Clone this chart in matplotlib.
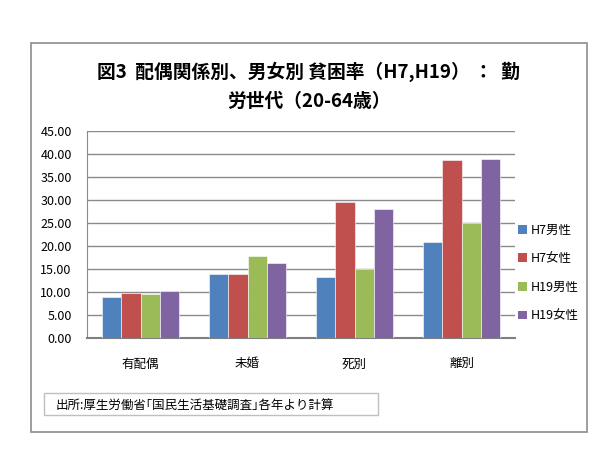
import matplotlib.pyplot as plt
import numpy as np
from matplotlib.patches import Rectangle, Patch

plt.rcParams['font.family'] = ['Noto Sans CJK JP', 'DejaVu Sans']

categories = ['有配偶', '未婚', '死別', '離別']
series_names = ['H7男性', 'H7女性', 'H19男性', 'H19女性']
h7_male = [9.0, 14.0, 13.3, 20.8]
h7_female = [9.8, 14.0, 29.6, 38.6]
h19_male = [9.5, 17.8, 14.9, 24.9]
h19_female = [10.3, 16.3, 28.1, 38.9]
colors = ['#4F81BD', '#C0504D', '#9BBB59', '#8064A2']
y_ticks = np.arange(0, 46, 5)

fig = plt.figure(figsize=(6.05, 4.57), dpi=100)
W, H = 605, 457

# outer chart frame
fig.patches.append(Rectangle((31 / W, 1 - 432 / H), (587 - 31) / W, (432 - 43) / H,
                             transform=fig.transFigure, fill=False,
                             edgecolor='#8c8c8c', linewidth=1.2))

ax = fig.add_axes([87 / W, 1 - 338 / H, (515 - 87) / W, (338 - 131) / H])

x = np.arange(len(categories))
bw = 0.18
data = [h7_male, h7_female, h19_male, h19_female]
for i, vals in enumerate(data):
    ax.bar(x + (i - 1.5) * bw, vals, bw, color=colors[i], edgecolor='white',
           linewidth=0.4, zorder=3)

ax.set_xlim(-0.5, len(categories) - 0.5)
ax.set_ylim(0, 45)
ax.set_yticks(y_ticks)
ax.set_yticklabels(['%.2f' % v for v in y_ticks])
ax.set_xticks(x)
ax.set_xticklabels(categories)
ax.tick_params(axis='y', length=0, pad=11, labelsize=9)
ax.tick_params(axis='x', length=0, pad=14, labelsize=9)
ax.grid(axis='y', color='#8a8a8a', linewidth=1, zorder=0)
for s in ['top', 'right']:
    ax.spines[s].set_visible(False)
ax.spines['left'].set_color('#8a8a8a')
ax.spines['bottom'].set_color('#7f7f7f')
ax.spines['bottom'].set_linewidth(1.5)

handles = [Patch(facecolor=c, edgecolor='none') for c in colors]
fig.legend(handles, series_names, loc='center left',
           bbox_to_anchor=(507 / W, 1 - 273 / H), frameon=False, fontsize=9,
           handlelength=0.7, handleheight=0.7, handletextpad=0.3, labelspacing=1.25)

fig.text(0.51, 1 - 72 / H, '図3  配偶関係別、男女別 貧困率（H7,H19） ：  勤',
         ha='center', va='center', fontsize=13.5, fontweight='bold')
fig.text(0.51, 1 - 101 / H, '労世代（20-64歳）',
         ha='center', va='center', fontsize=13.5, fontweight='bold')

# source note box
fig.patches.append(Rectangle((44 / W, 1 - 415 / H), (378 - 44) / W, (415 - 393) / H,
                             transform=fig.transFigure, fill=False,
                             edgecolor='#bfbfbf', linewidth=1))
fig.text(56 / W, 1 - 406 / H, '出所:厚生労働省｢国民生活基礎調査｣各年より計算',
         ha='left', va='center', fontsize=9)

fig.savefig('out.png', dpi=100)
